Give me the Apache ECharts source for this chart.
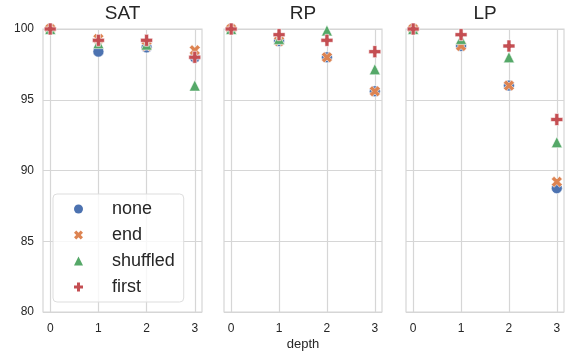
<!DOCTYPE html>
<html lang="en">
	<head>
		<meta charset="utf-8" />
		<title>Depth scatter</title>
		<style>
			html, body { margin: 0; padding: 0; background: #fff; }
			#chart { width: 570px; height: 356px; }
		</style>
	</head>
	<body>
		<div id="chart"></div>
		<script src="https://cdn.jsdelivr.net/npm/echarts@6/dist/echarts.min.js"></script>
		<script type="text/javascript">
			const depths = [0, 1, 2, 3];
			const panels = ['SAT', 'RP', 'LP'];
			const groups = ['none', 'end', 'shuffled', 'first'];
			const yTicks = [80, 85, 90, 95, 100];

			// values per panel, one array per group (index = depth)
			const satNone = [100, 98.4, 98.7, 98.0];
			const satEnd = [100, 99.3, 98.8, 98.5];
			const satShuffled = [100, 99.0, 98.9, 96.0];
			const satFirst = [100, 99.2, 99.2, 98.0];

			const rpNone = [100, 99.15, 98.0, 95.6];
			const rpEnd = [100, 99.15, 98.0, 95.6];
			const rpShuffled = [100, 99.3, 99.9, 97.15];
			const rpFirst = [100, 99.6, 99.2, 98.4];

			const lpNone = [100, 98.8, 96.0, 88.75];
			const lpEnd = [100, 98.8, 96.0, 89.2];
			const lpShuffled = [100, 99.3, 98.0, 92.0];
			const lpFirst = [100, 99.6, 98.8, 93.6];

			const values = [
				[satNone, satEnd, satShuffled, satFirst],
				[rpNone, rpEnd, rpShuffled, rpFirst],
				[lpNone, lpEnd, lpShuffled, lpFirst],
			];

			const colors = ['#4C72B0', '#DD8452', '#55A868', '#C44E52'];
			// filled plus and filled x, like matplotlib 'P' and 'X'
			const plus = 'path://M2,0 H4 V2 H6 V4 H4 V6 H2 V4 H0 V2 H2 Z';
			const cross = 'path://M0,1.5 L1.5,0 L3,1.5 L4.5,0 L6,1.5 L4.5,3 L6,4.5 L4.5,6 L3,4.5 L1.5,6 L0,4.5 L1.5,3 Z';
			const symbols = [
				{ symbol: 'circle', size: 11 },
				{ symbol: cross, size: 11 },
				{ symbol: 'triangle', size: 11 },
				{ symbol: plus, size: 12 },
			];
			const font = 'Liberation Sans, Arial, sans-serif';
			const textColor = '#262626';
			const lineColor = '#d6d6d6';

			const gridLefts = [43, 224, 406];
			const gridWidths = [159, 158, 158];
			const gridTop = 29;
			const gridHeight = 283;

			const grids = [], xAxes = [], yAxes = [], series = [], texts = [];
			panels.forEach((p, i) => {
				grids.push({
					left: gridLefts[i], top: gridTop, width: gridWidths[i], height: gridHeight,
					show: true, borderColor: lineColor, borderWidth: 1.2,
				});
				xAxes.push({
					gridIndex: i, type: 'value', min: -0.15, max: 3.15,
					axisLine: { show: false },
					axisTick: { show: false, customValues: depths },
					axisLabel: { customValues: depths, color: textColor, fontSize: 12, fontFamily: font, margin: 11 },
					splitLine: { show: true, lineStyle: { color: lineColor, width: 1.2 } },
				});
				yAxes.push({
					gridIndex: i, type: 'value', min: yTicks[0], max: yTicks[yTicks.length - 1], interval: 5,
					axisLine: { show: false },
					axisTick: { show: false },
					axisLabel: { show: i === 0, color: textColor, fontSize: 12, fontFamily: font, margin: 9 },
					splitLine: { show: true, lineStyle: { color: lineColor, width: 1.2 } },
				});
				// panel title
				texts.push({
					type: 'text',
					x: gridLefts[i] + gridWidths[i] / 2, y: 14,
					style: { text: p, fill: textColor, font: '19px ' + font, textAlign: 'center', textVerticalAlign: 'middle' },
				});
				groups.forEach((g, k) => {
					series.push({
						name: g, type: 'scatter', xAxisIndex: i, yAxisIndex: i, clip: false,
						symbol: symbols[k].symbol, symbolSize: symbols[k].size, symbolKeepAspect: true,
						itemStyle: { color: colors[k], borderColor: '#fff', borderWidth: 0.6, opacity: 1 },
						emphasis: { disabled: true },
						z: 2 + k,
						data: depths.map((d, j) => [d, values[i][k][j]]),
					});
				});
			});
			// shared x label under the middle panel
			texts.push({
				type: 'text',
				x: gridLefts[1] + gridWidths[1] / 2, y: 344,
				style: { text: 'depth', fill: textColor, font: '13px ' + font, textAlign: 'center', textVerticalAlign: 'middle' },
			});

			const chart = echarts.init(document.getElementById('chart'));
			chart.setOption({
				animation: false,
				color: colors,
				grid: grids,
				xAxis: xAxes,
				yAxis: yAxes,
				series,
				legend: {
					data: groups, orient: 'vertical', left: 53, top: 194,
					itemWidth: 9, itemHeight: 9, itemGap: 8,
					itemStyle: { borderWidth: 0 },
					padding: [6, 9, 6, 21],
					backgroundColor: 'rgba(255,255,255,0.8)',
					borderColor: '#dddddd', borderWidth: 1, borderRadius: 4,
					textStyle: { color: textColor, fontSize: 18, fontFamily: font, lineHeight: 18, padding: [0, 0, 0, 24] },
				},
				graphic: texts,
			});
		</script>
	</body>
</html>
